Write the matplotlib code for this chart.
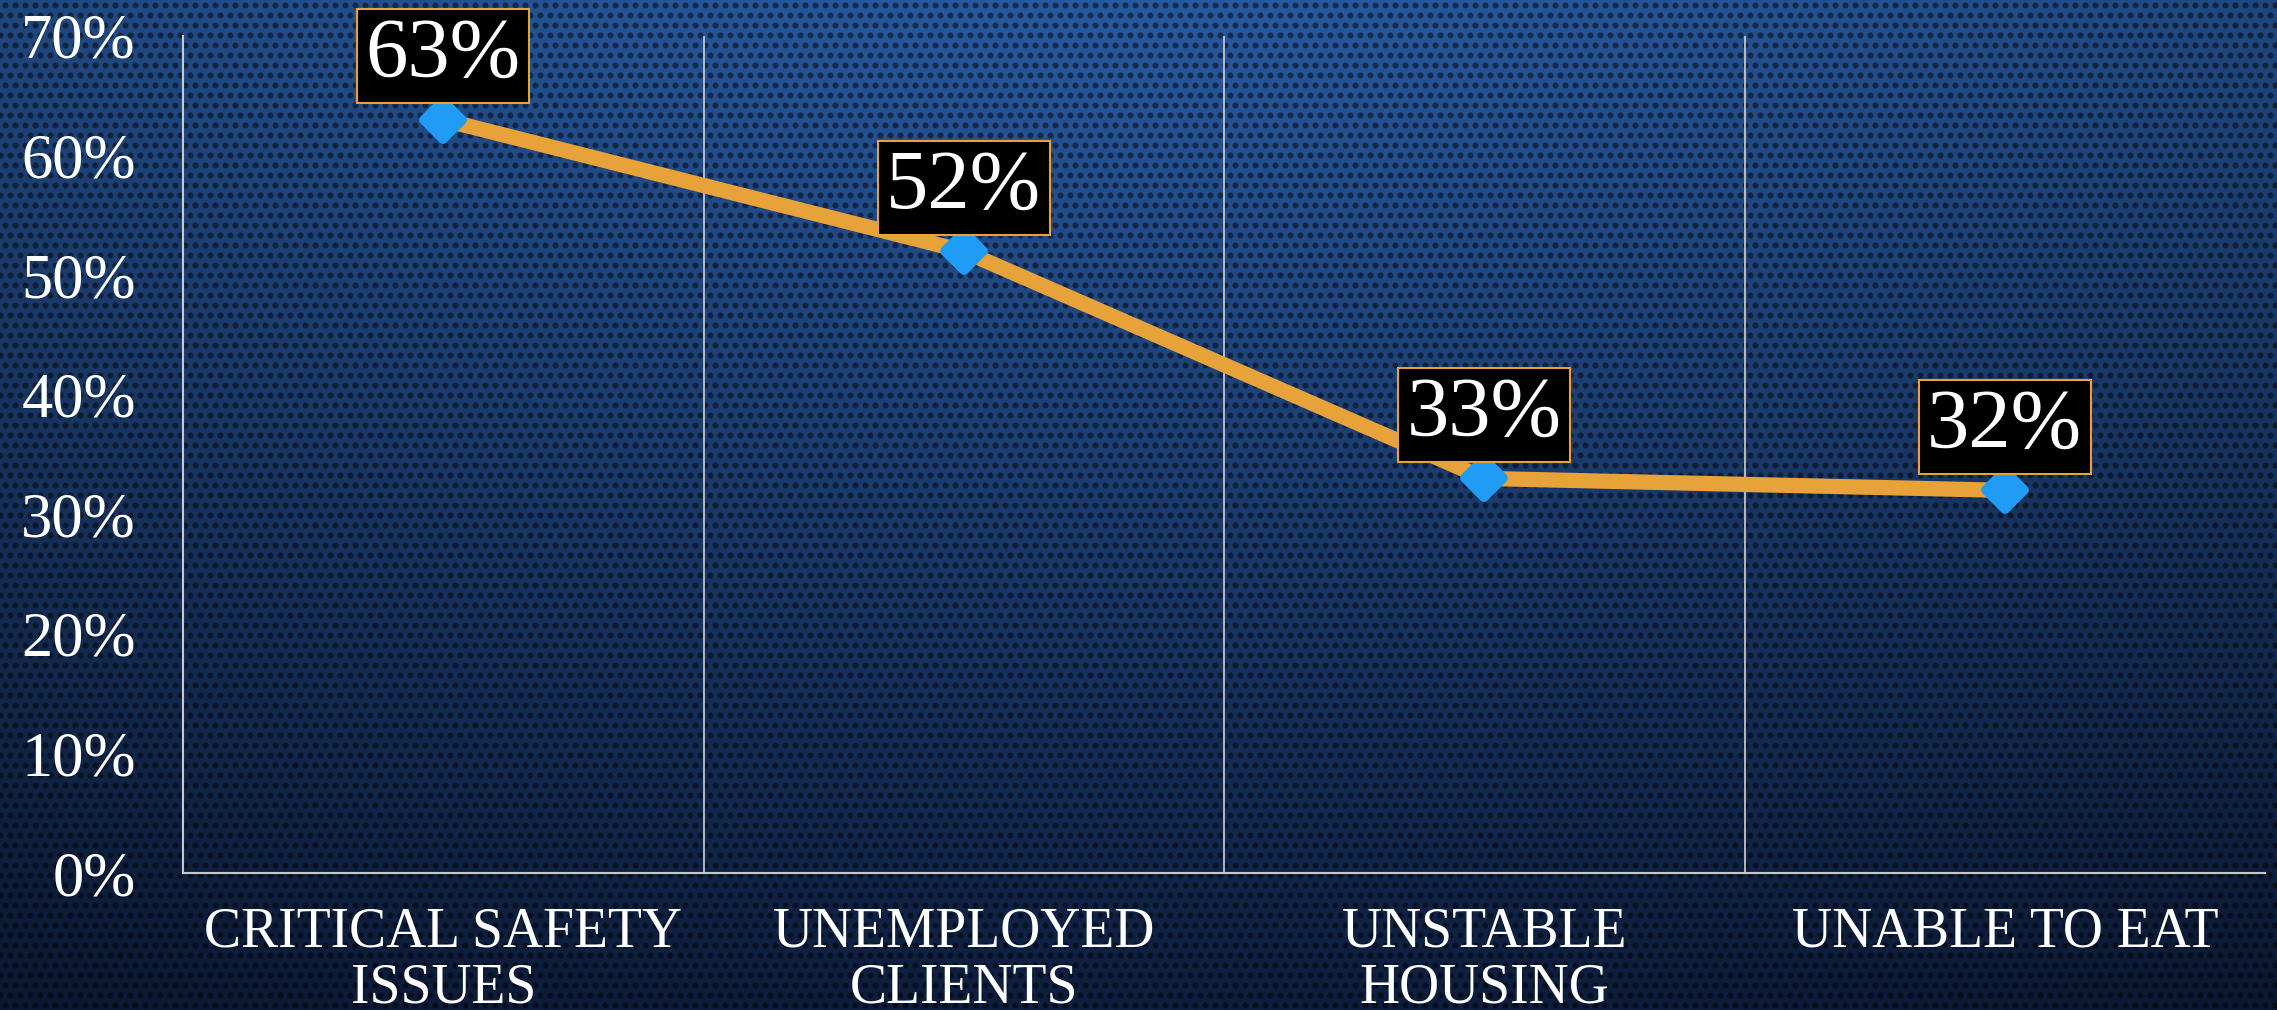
import matplotlib
matplotlib.use("Agg")
import matplotlib.pyplot as plt
from matplotlib.markers import MarkerStyle
import numpy as np

categories = ["CRITICAL SAFETY\nISSUES", "UNEMPLOYED\nCLIENTS", "UNSTABLE\nHOUSING", "UNABLE TO EAT"]
values = [0.63, 0.52, 0.33, 0.32]
yticks = [0, 0.1, 0.2, 0.3, 0.4, 0.5, 0.6, 0.7]
ytick_labels = ["0%", "10%", "20%", "30%", "40%", "50%", "60%", "70%"]

orange = "#E8A23A"
blue = "#219CF4"
serif = ["Liberation Serif", "DejaVu Serif"]

W, H = 2277, 1010
fig = plt.figure(figsize=(W / 100, H / 100), dpi=100)

# background: blue gradient with a dotted mesh texture
yy, xx = np.mgrid[0:H, 0:W]
t = yy / H
top = np.array([40, 90, 160]) / 255
bot = np.array([14, 30, 62]) / 255
base = top[None, None, :] * (1 - t[..., None]) + bot[None, None, :] * t[..., None]
dx = (xx - W * 0.5) / W
vign = 1 - 0.35 * np.clip(np.abs(dx) * 1.4, 0, 1) ** 1.5
base = base * vign[..., None]
px = (xx + 5 * ((yy // 10) % 2)) % 10 - 5
py = yy % 10 - 5
r = np.sqrt(px ** 2 + py ** 2)
dots = 1 - 0.5 * np.clip(1 - (r - 2.2) / 1.5, 0, 1)
img = np.clip(base * dots[..., None], 0, 1)

bg = fig.add_axes([0, 0, 1, 1])
bg.imshow(img, aspect="auto", interpolation="nearest")
bg.axis("off")

ax = fig.add_axes([183 / W, 1 - 873 / H, (2265 - 183) / W, (873 - 36) / H])
ax.set_facecolor("none")
x = np.arange(len(categories))

for sep in [0.5, 1.5, 2.5]:
    ax.plot([sep, sep], [0, 0.7], color="#d0d0d0", lw=1.2, zorder=1)

ax.plot(x, values, color=orange, lw=11, zorder=2, solid_capstyle="round")
ax.plot(x, values, ls="none", marker=MarkerStyle("D", joinstyle="round"), ms=19,
        color=blue, mec=blue, mew=7, zorder=3)

for xi, v in zip(x, values):
    ax.annotate(f"{round(v * 100)}%", (xi, v), xytext=(0, 18), textcoords="offset points",
                ha="center", va="bottom", color="white", fontsize=61, family=serif,
                bbox=dict(boxstyle="square,pad=0.1", fc="black", ec=orange, lw=1.5),
                zorder=4)

ax.set_xlim(-0.5, 3.5)
ax.set_ylim(0, 0.7)
ax.set_xticks(x)
ax.set_xticklabels(categories, family=serif, fontsize=40, color="white",
                   linespacing=1.1)
ax.set_yticks(yticks)
ax.set_yticklabels(ytick_labels, family=serif, fontsize=45, color="white")
ax.tick_params(axis="x", length=0, pad=24)
ax.tick_params(axis="y", length=0, pad=34)
for s in ["top", "right"]:
    ax.spines[s].set_visible(False)
for s in ["left", "bottom"]:
    ax.spines[s].set_color("#c8c8c8")
    ax.spines[s].set_linewidth(1.5)

fig.savefig("out.png", dpi=100)
